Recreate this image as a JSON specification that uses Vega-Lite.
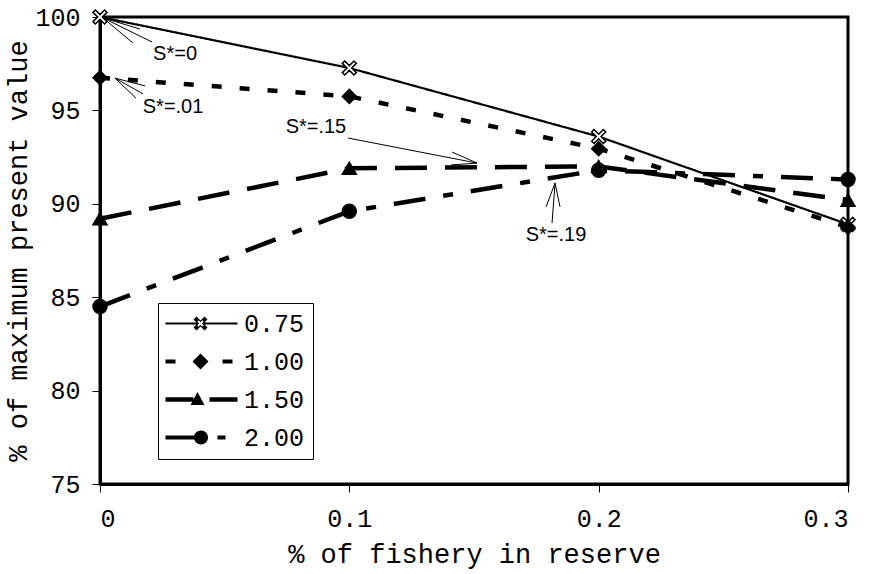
{
  "$schema": "https://vega.github.io/schema/vega-lite/v6.json",
  "width": 748,
  "height": 467,
  "autosize": {"type": "none"},
  "padding": {"left": 100, "top": 17, "right": 26, "bottom": 90},
  "background": "white",
  "config": {
    "view": {"stroke": "black", "strokeWidth": 3},
    "axis": {
      "grid": false,
      "domainColor": "black",
      "domainWidth": 3,
      "tickColor": "black",
      "tickSize": 8,
      "tickWidth": 1,
      "labelFont": "Liberation Mono",
      "labelFontSize": 25,
      "labelColor": "black",
      "titleFont": "Liberation Mono",
      "titleFontSize": 27,
      "titleFontWeight": "normal",
      "titleColor": "black"
    }
  },
  "datasets": {
    "lines": [
      {"series": "0.75", "x": 0, "y": 100},
      {"series": "0.75", "x": 0.1, "y": 97.27},
      {"series": "0.75", "x": 0.2, "y": 93.6},
      {"series": "0.75", "x": 0.3, "y": 88.9},
      {"series": "1.00", "x": 0, "y": 96.75},
      {"series": "1.00", "x": 0.1, "y": 95.75},
      {"series": "1.00", "x": 0.2, "y": 92.95},
      {"series": "1.00", "x": 0.3, "y": 88.75},
      {"series": "1.50", "x": 0, "y": 89.2},
      {"series": "1.50", "x": 0.1, "y": 91.9},
      {"series": "1.50", "x": 0.2, "y": 92.0},
      {"series": "1.50", "x": 0.3, "y": 90.2},
      {"series": "2.00", "x": 0, "y": 84.5},
      {"series": "2.00", "x": 0.1, "y": 89.6},
      {"series": "2.00", "x": 0.2, "y": 91.8},
      {"series": "2.00", "x": 0.3, "y": 91.3}
    ],
    "notes": [
      {"label": "S*=0", "x": 0.0301, "y": 98.02},
      {"label": "S*=.01", "x": 0.0293, "y": 95.18},
      {"label": "S*=.15", "x": 0.0866, "y": 94.11},
      {"label": "S*=.19", "x": 0.1829, "y": 88.33}
    ],
    "arrows": [
      {"x": 0.0012, "y": 99.95, "x2": 0.0209, "y2": 98.66},
      {"x": 0.0012, "y": 99.95, "x2": 0.016, "y2": 99.36},
      {"x": 0.0012, "y": 99.95, "x2": 0.0132, "y2": 98.61},
      {"x": 0.006, "y": 96.73, "x2": 0.0173, "y2": 95.88},
      {"x": 0.006, "y": 96.73, "x2": 0.0181, "y2": 96.31},
      {"x": 0.006, "y": 96.73, "x2": 0.0144, "y2": 95.66},
      {"x": 0.0995, "y": 93.52, "x2": 0.1512, "y2": 92.18},
      {"x": 0.1512, "y": 92.18, "x2": 0.1412, "y2": 92.77},
      {"x": 0.1512, "y": 92.18, "x2": 0.1408, "y2": 92.08},
      {"x": 0.1825, "y": 91.11, "x2": 0.1813, "y2": 88.97},
      {"x": 0.1825, "y": 91.11, "x2": 0.1789, "y2": 89.83},
      {"x": 0.1825, "y": 91.11, "x2": 0.1845, "y2": 89.83}
    ]
  },
  "encoding": {
    "x": {
      "field": "x",
      "type": "quantitative",
      "scale": {"domain": [0, 0.3], "nice": false, "zero": false},
      "axis": {"title": "% of fishery in reserve", "values": [0, 0.1, 0.2, 0.3], "format": "~g", "labelPadding": 14, "titlePadding": 10}
    },
    "y": {
      "field": "y",
      "type": "quantitative",
      "scale": {"domain": [75, 100], "nice": false, "zero": false},
      "axis": {"title": "% of maximum present value", "values": [75, 80, 85, 90, 95, 100], "labelPadding": 12, "titlePadding": 2}
    }
  },
  "layer": [
    {
      "data": {"name": "lines"},
      "mark": {"type": "line", "color": "black"},
      "encoding": {
        "detail": {"field": "series"},
        "strokeDash": {
          "field": "series",
          "type": "nominal",
          "scale": {"domain": ["0.75", "1.00", "1.50", "2.00"], "range": [[1, 0], [10, 18], [32, 18], [32, 18, 10, 18]]},
          "legend": null
        },
        "strokeWidth": {
          "field": "series",
          "type": "nominal",
          "scale": {"type": "ordinal", "domain": ["0.75", "1.00", "1.50", "2.00"], "range": [2.2, 4.5, 4.5, 4.5]},
          "legend": null
        }
      }
    },
    {
      "data": {"name": "lines"},
      "mark": {"type": "point", "filled": true, "stroke": "black", "strokeWidth": 1.5, "opacity": 1, "size": 196},
      "encoding": {
        "shape": {
          "field": "series",
          "type": "nominal",
          "scale": {"domain": ["0.75", "1.00", "1.50", "2.00"], "range": ["M-1,-0.66L-0.66,-1L0,-0.34L0.66,-1L1,-0.66L0.34,0L1,0.66L0.66,1L0,0.34L-0.66,1L-1,0.66L-0.34,0Z", "M0,-1L1,0L0,1L-1,0Z", "triangle-up", "circle"]},
          "legend": null
        },
        "fill": {
          "field": "series",
          "type": "nominal",
          "scale": {"domain": ["0.75", "1.00", "1.50", "2.00"], "range": ["white", "black", "black", "black"]},
          "legend": null
        }
      }
    },
    {
      "data": {"name": "lines"},
      "mark": {"type": "point", "filled": true, "color": "black", "opacity": 0, "strokeWidth": 0},
      "encoding": {
        "shape": {
          "field": "series",
          "type": "nominal",
          "scale": {"domain": ["0.75", "1.00", "1.50", "2.00"], "range": [
            "M-1.3,-0.1H1.85V0.1H-1.3ZM2.55,-0.1H5.9V0.1H2.55ZM1.5,-0.4L1.8,-0.7L2.2,-0.3L2.6,-0.7L2.9,-0.4L2.5,0L2.9,0.4L2.6,0.7L2.2,0.3L1.8,0.7L1.5,0.4L1.9,0ZM2.065,0L1.885,0.18L2.02,0.315L2.2,0.135L2.38,0.315L2.515,0.18L2.335,0L2.515,-0.18L2.38,-0.315L2.2,-0.135L2.02,-0.315L1.885,-0.18Z",
            "M-1.3,-0.2H-0.3V0.2H-1.3ZM4.4,-0.2H5.4V0.2H4.4ZM2.2,-0.8L3,0L2.2,0.8L1.4,0Z",
            "M-1.3,-0.22H1.5V0.22H-1.3ZM3.1,-0.22H5.9V0.22H3.1ZM1.9,-0.75L2.6,0.55L1.2,0.55Z",
            "M-1.3,-0.2H1.7V0.2H-1.3ZM3.9,-0.2H4.7V0.2H3.9ZM1.55,0A0.7,0.7 0 1,1 2.95,0A0.7,0.7 0 1,1 1.55,0Z"
          ]},
          "legend": {
            "title": null,
            "orient": "none",
            "legendX": 58,
            "legendY": 286,
            "padding": 8,
            "strokeColor": "black",
            "fillColor": "white",
            "symbolSize": 400,
            "symbolStrokeWidth": 0,
            "symbolFillColor": "black",
            "symbolOpacity": 1,
            "labelFont": "Liberation Mono",
            "labelFontSize": 25,
            "labelColor": "black",
            "labelOffset": 53,
            "rowPadding": 12
          }
        }
      }
    },
    {
      "data": {"name": "arrows"},
      "mark": {"type": "rule", "color": "black", "strokeWidth": 1},
      "encoding": {
        "x2": {"field": "x2"},
        "y2": {"field": "y2"}
      }
    },
    {
      "data": {"name": "notes"},
      "mark": {"type": "text", "font": "Liberation Sans", "fontSize": 20, "color": "black", "align": "center", "baseline": "middle"},
      "encoding": {
        "text": {"field": "label"}
      }
    }
  ],
  "resolve": {"scale": {"shape": "independent"}}
}
